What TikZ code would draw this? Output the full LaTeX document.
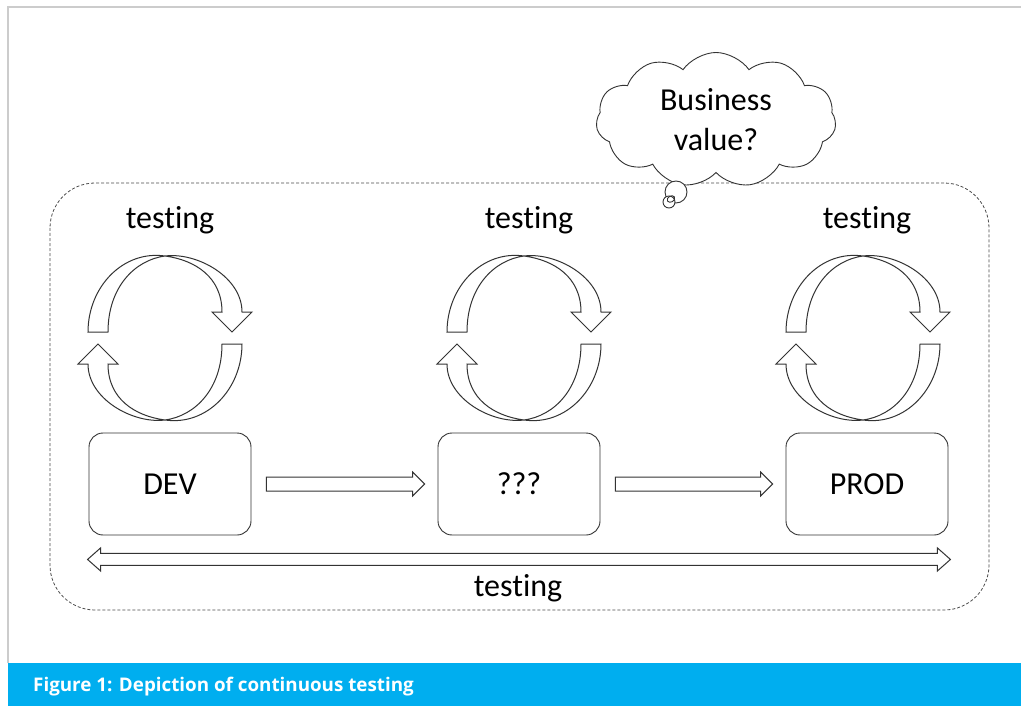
\documentclass[tikz,border=0pt]{standalone}
\usepackage{fontspec}
\setmainfont{Carlito}[Ligatures=NoCommon]
\newfontfamily\capfont{Open Sans}
\usetikzlibrary{shapes.symbols,calc}
\definecolor{capblue}{HTML}{00AEEF}
\tikzset{
  ln/.style={draw=black!80, line width=0.9pt},
  bigfont/.style={font=\fontsize{32}{40}\selectfont},
  box/.style={ln, bigfont, rounded corners=14pt, minimum width=162pt, minimum height=102pt, inner sep=0pt},
  lbl/.style={bigfont, inner sep=0pt},
  fatarrow/.style={draw=black!80, line width=1pt, fill=white, line join=miter},
  frameline/.style={draw=black!20, line width=1.5pt},
  dashframe/.style={draw=black!70, line width=0.8pt, dash pattern=on 3pt off 2pt, rounded corners=45pt},
  loopcyc/.pic={
    \path[fatarrow] (-77,-6) .. controls (-77,-51) and (-42,-88) .. (0,-82)
       .. controls (32,-86) and (77,-61) .. (77,-26)
       -- (87,-26) -- (67,-6) -- (47,-26) -- (57,-26)
       .. controls (57,-61) and (30,-78) .. (0,-82)
       .. controls (-30,-78) and (-57,-51) .. (-57,-6) -- cycle;
    \path[fatarrow, rotate=180] (-77,-6) .. controls (-77,-51) and (-42,-88) .. (0,-82)
       .. controls (32,-86) and (77,-61) .. (77,-26)
       -- (87,-26) -- (67,-6) -- (47,-26) -- (57,-26)
       .. controls (57,-61) and (30,-78) .. (0,-82)
       .. controls (-30,-78) and (-57,-51) .. (-57,-6) -- cycle;
  }
}
\begin{document}
\begin{tikzpicture}[x=1pt,y=-1pt]
\useasboundingbox (0,0) rectangle (1021,706);
\fill[white] (0,0) rectangle (1021,706);
% outer frame and caption bar
\draw[frameline] (8,663) -- (8,7) -- (1021,7);
\fill[capblue] (8,663) rectangle (1021,706);
\node[anchor=base west, text=white, inner sep=0pt, font=\capfont\bfseries\fontsize{18.8}{20}\selectfont] (cap) at (33,691) {Figure 1: Depiction of continuous testing};

% dashed boundary
\draw[dashframe] (50,183) rectangle (989,610);

% stage boxes
\node[box] (dev)  at (170,484) {DEV};
\node[box] (qqq)  at (519,484) {???};
\node[box] (prod) at (867,484) {PROD};

% testing cycles
\pic (c1) at (165,338) {loopcyc};
\pic (c2) at (524,338) {loopcyc};
\pic (c3) at (863,338) {loopcyc};

\node[lbl] (t1) at (170,220) {testing};
\node[lbl] (t2) at (529,220) {testing};
\node[lbl] (t3) at (867,220) {testing};

% block arrows between boxes
\path[fatarrow] let \p1=(dev.east), \p2=(qqq.west) in
  (\x1+15,\y1+7) -- (\x2-25,\y1+7) -- (\x2-25,\y1+12) -- (\x2-13,\y1)
  -- (\x2-25,\y1-12) -- (\x2-25,\y1-7) -- (\x1+15,\y1-7) -- cycle;
\path[fatarrow] let \p1=(qqq.east), \p2=(prod.west) in
  (\x1+15,\y1+7) -- (\x2-25,\y1+7) -- (\x2-25,\y1+12) -- (\x2-13,\y1)
  -- (\x2-25,\y1-12) -- (\x2-25,\y1-7) -- (\x1+15,\y1-7) -- cycle;

% double arrow
\path[fatarrow] let \p1=(dev.south west), \p2=(prod.south east) in
  (\x1-1,\y1-24) -- (\x1+12,\y1-12.5) -- (\x1+12,\y1-18) -- (\x2-11,\y1-18)
  -- (\x2-11,\y1-12.5) -- (\x2+2,\y1-24) -- (\x2-11,\y1-35.5) -- (\x2-11,\y1-30)
  -- (\x1+12,\y1-30) -- (\x1+12,\y1-35.5) -- cycle;
\node[lbl] (tb) at (518,588) {testing};

% thought cloud
\node[cloud, cloud puffs=11, cloud puff arc=110, aspect=1.78, ln, fill=white,
      minimum width=240pt, minimum height=135pt, inner sep=0pt, align=center,
      font=\fontsize{32}{40}\selectfont] (cloud) at (716,120) {Business\\value?};
\draw[ln, fill=white] (676,192) circle (11pt);
\draw[ln, fill=white] (669,202) circle (6pt);
\draw[ln] (671,199) ellipse [x radius=4pt, y radius=3pt, rotate=30];
\end{tikzpicture}
\end{document}
